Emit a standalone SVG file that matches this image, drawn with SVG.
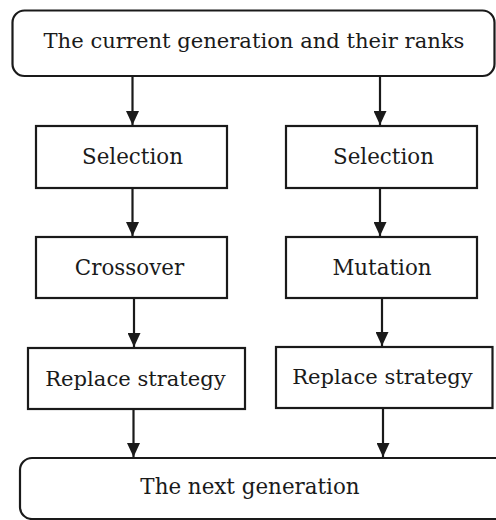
<svg xmlns="http://www.w3.org/2000/svg" width="496" height="520" viewBox="0 0 496 520">
<style>
.box{fill:#fff;stroke:#1a1a1a;stroke-width:2.2}
.t{font-family:'DejaVu Serif','Liberation Serif',serif;font-size:21.4px;fill:#1a1a1a;text-anchor:middle}
.c{stroke:#1a1a1a;stroke-width:2.2;fill:none}
</style>
<defs>
<marker id="ah" markerUnits="userSpaceOnUse" markerWidth="14" markerHeight="13" refX="14" refY="6.5" orient="auto" viewBox="0 0 14 13">
<path d="M0,0 L14,6.5 L0,13 Z" fill="#1a1a1a"/>
</marker>
</defs>
<rect width="496" height="520" fill="#fff"/>
<g id="connectors">
<line class="c" x1="132.5" y1="76" x2="132.5" y2="125" marker-end="url(#ah)"/>
<line class="c" x1="380" y1="76" x2="380" y2="125" marker-end="url(#ah)"/>
<line class="c" x1="132.5" y1="188" x2="132.5" y2="236" marker-end="url(#ah)"/>
<line class="c" x1="380" y1="188" x2="380" y2="236" marker-end="url(#ah)"/>
<line class="c" x1="134" y1="298" x2="134" y2="347" marker-end="url(#ah)"/>
<line class="c" x1="382" y1="298" x2="382" y2="346" marker-end="url(#ah)"/>
<line class="c" x1="133.5" y1="409" x2="133.5" y2="457" marker-end="url(#ah)"/>
<line class="c" x1="383" y1="408" x2="383" y2="457" marker-end="url(#ah)"/>
</g>
<g id="current">
<rect class="box" x="12.5" y="10.5" width="482" height="65.5" rx="12"/>
<text class="t" x="254" y="48" style="font-size:21.1px">The current generation and their ranks</text>
</g>
<g id="selection1">
<rect class="box" x="36" y="126" width="191" height="62"/>
<text class="t" x="132.5" y="164">Selection</text>
</g>
<g id="selection2">
<rect class="box" x="286" y="126" width="191" height="62"/>
<text class="t" x="383.5" y="164">Selection</text>
</g>
<g id="crossover">
<rect class="box" x="36" y="237" width="191" height="61"/>
<text class="t" x="129.5" y="275">Crossover</text>
</g>
<g id="mutation">
<rect class="box" x="286" y="237" width="191" height="61"/>
<text class="t" x="382" y="275">Mutation</text>
</g>
<g id="replace1">
<rect class="box" x="28" y="348" width="217" height="61"/>
<text class="t" x="135.5" y="386" style="font-size:21.1px">Replace strategy</text>
</g>
<g id="replace2">
<rect class="box" x="276" y="347" width="216.5" height="61"/>
<text class="t" x="382.5" y="384" style="font-size:21.1px">Replace strategy</text>
</g>
<g id="next">
<rect class="box" x="20" y="458" width="500" height="61" rx="12"/>
<text class="t" x="250" y="494">The next generation</text>
</g>
</svg>
